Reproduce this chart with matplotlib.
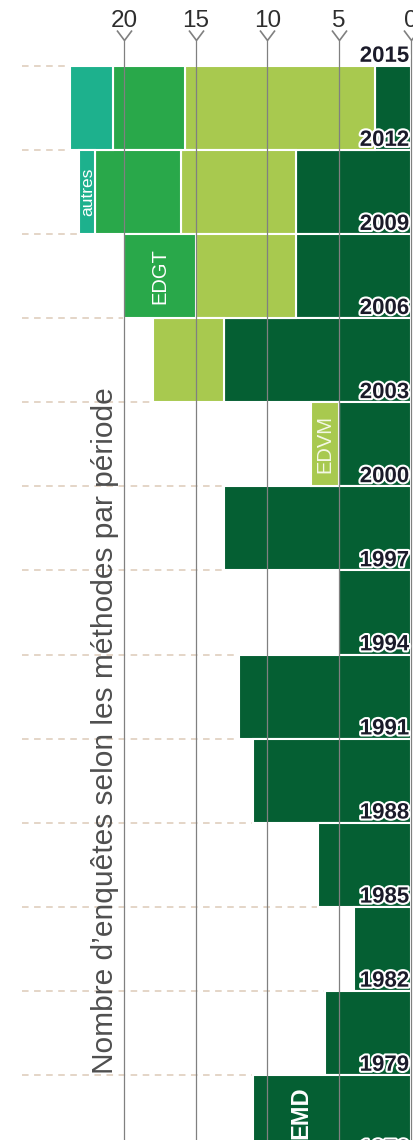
import numpy as np
import matplotlib.pyplot as plt
import matplotlib.patheffects as pe
from matplotlib.path import Path

plt.rcParams['font.family'] = ['Liberation Sans', 'DejaVu Sans']

# period start years (each bar covers 3 years)
periods = [2012, 2009, 2006, 2003, 2000, 1997, 1994, 1991, 1988, 1985, 1982, 1979, 1976]
emd = [2.5, 8, 8, 13, 5, 13, 5, 12, 11, 6.5, 4, 6, 11]
edvm = [13.25, 8, 7, 5, 2, 0, 0, 0, 0, 0, 0, 0, 0]
edgt = [5, 6, 5, 0, 0, 0, 0, 0, 0, 0, 0, 0, 0]
autres = [3, 1.1, 0, 0, 0, 0, 0, 0, 0, 0, 0, 0, 0]
year_labels = [2015, 2012, 2009, 2006, 2003, 2000, 1997, 1994, 1991, 1988, 1985, 1982, 1979, 1976]
ticks = [0, 5, 10, 15, 20]

col_emd = '#055f33'
col_edvm = '#a8c94f'
col_edgt = '#29a84a'
col_autres = '#1db18d'
grey = '#808080'

fig = plt.figure(figsize=(4.14, 11.4), dpi=100)
ax = fig.add_axes([0, 0, 1, 1])
ax.set_xlim(28.64, -0.21)
ax.set_ylim(1976.68, 2017.355)
ax.axis('off')

# dashed separators between periods
ax.hlines(year_labels, 27.1, 5, colors='#dccab8', linestyles=(0, (4.3, 3.6)), lw=1.1, zorder=1)

# stacked bars
y = np.array(periods) + 1.5
left = np.zeros(len(periods))
lefts = {}
series = [('EMD', emd, col_emd), ('EDVM', edvm, col_edvm),
          ('EDGT', edgt, col_edgt), ('autres', autres, col_autres)]
for name, vals, col in series:
    vals = np.array(vals, dtype=float)
    lefts[name] = left.copy()
    m = vals > 0
    ax.barh(y[m], vals[m], left=left[m], height=3, color=col,
            edgecolor='white', linewidth=1.5, zorder=2)
    left = left + vals

# method labels, at the first period where each method appears
i = periods.index(2009)
ax.text(lefts['autres'][i] + autres[i] / 2, y[i], 'autres', rotation=90, ha='center', va='center',
        fontsize=12.5, color='white', zorder=5)
i = periods.index(2006)
ax.text(lefts['EDGT'][i] + edgt[i] / 2, y[i], 'EDGT', rotation=90, ha='center', va='center',
        fontsize=14.5, color='white', zorder=5)
i = periods.index(2000)
ax.text(lefts['EDVM'][i] + edvm[i] / 2, y[i], 'EDVM', rotation=90, ha='center', va='center',
        fontsize=14.5, color='#f4f8e6', zorder=5)
i = periods.index(1976)
ax.text(7.67, y[i] + 0.15, 'EMD', rotation=90, ha='center', va='center',
        fontsize=17, fontweight='bold', color='white', zorder=5)

# vertical guide lines and top ticks
ax.vlines(ticks, 1976.68, 2015.93, colors=grey, lw=0.9, zorder=4)
chevron = Path([(-0.75, 0.5), (0, -0.5), (0.75, 0.5)], [Path.MOVETO, Path.LINETO, Path.LINETO])
ax.plot(ticks, [2016.11] * len(ticks), ls='none', marker=chevron, ms=10.8,
        mec=grey, mfc='none', mew=1.2, clip_on=False, zorder=4)
for t in ticks:
    ax.text(t, 2016.39, str(t), ha='center', va='baseline', fontsize=17.5, color='#2e2e2e')

# year labels
for yr in year_labels:
    ax.text(0.12, yr + 0.15, str(yr), ha='right', va='baseline', fontsize=16,
            fontweight='bold', color='#1b1b2a', zorder=6,
            path_effects=[pe.withStroke(linewidth=3, foreground='white')])

ax.text(21.3, 1991.3, 'Nombre d\u2019enquêtes selon les méthodes par période', rotation=90,
        ha='center', va='center', fontsize=21.5, color='#4f4f4f')

fig.savefig('out.png', dpi=100)
